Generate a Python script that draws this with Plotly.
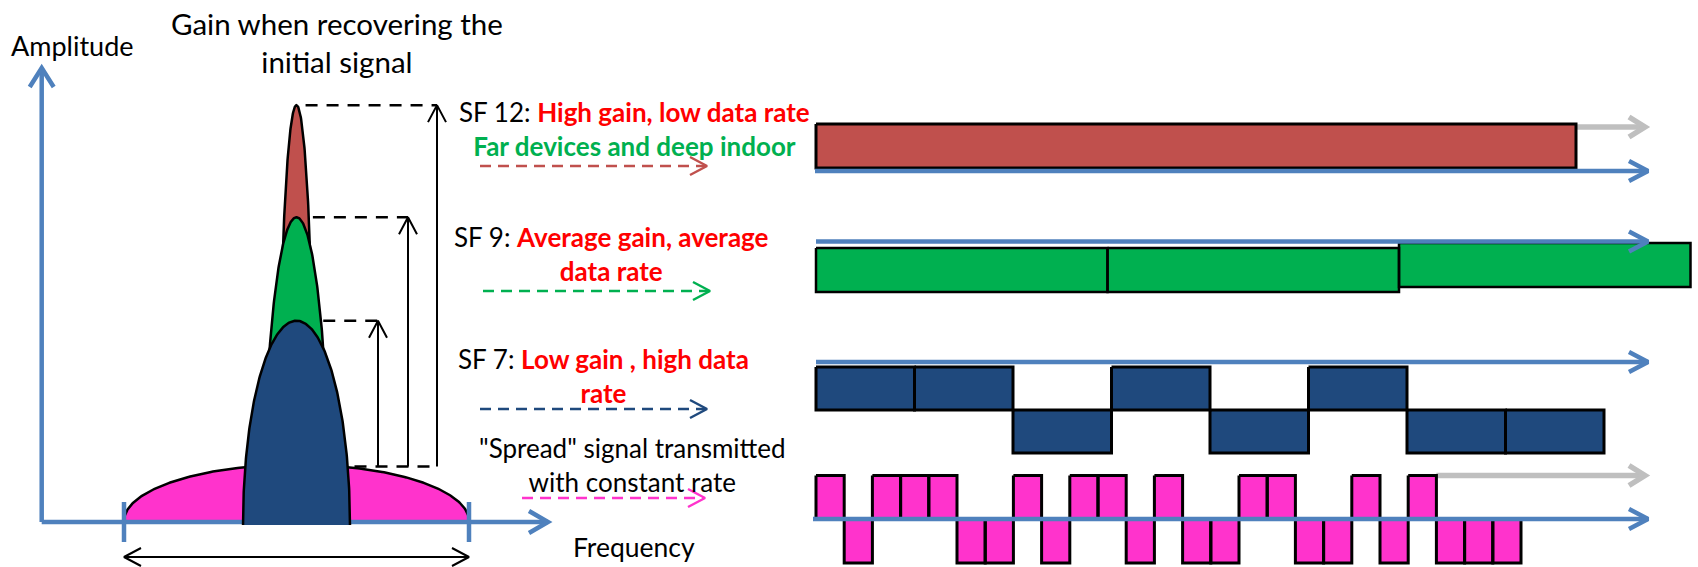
import numpy as np
import plotly.graph_objects as go

# ---------------- data ----------------
signal_names   = ["SF 12", "SF 9", "SF 7", "Spread"]
peak_amplitude = [7.25, 5.3, 3.5, 1.0]      # peak height relative to the spread signal
half_bandwidth = [0.105, 0.19, 0.31, 1.0]   # half bandwidth relative to the spread signal

sf12_symbols = [1]
sf9_symbols  = [0, 0, 1]
sf7_symbols  = [1, 1, 0, 1, 0, 1, 0, 0]
spread_chips = [1, 0, 1, 1, 1, 0, 0, 1, 0, 1, 1, 0, 1, 0, 0, 1, 1, 0, 0, 1, 0, 1, 0, 0, 0]

title_text   = "Gain when recovering the<br>initial signal"
y_axis_label = "Amplitude"
x_axis_label = "Frequency"
sf_labels    = ["SF 12: ", "SF 9: ", "SF 7: "]
sf_red_texts = ["High gain, low data rate", "Average gain, average<br>data rate", "Low gain , high data<br>rate"]
sf12_note    = "Far devices and deep indoor"
spread_text  = "\"Spread\" signal transmitted<br>with constant rate"

# ---------------- styles / geometry ----------------
W, H = 1698, 567
FONT = "Lato"
AXIS_BLUE = "#4F81BD"
GRAY = "#BFBFBF"
shape_colors = ["#C0504D", "#00B050", "#1F497D", "#FF33CC"]
TEXT_RED, TEXT_GREEN = "#FF0000", "#00B050"

F0, BASE, AMP_PX, BW_PX = 296.5, 522.0, 57.5, 172.5
X0 = 816.0

fig = go.Figure()


def add_line(xs, ys, color, width, dash=None):
    fig.add_trace(go.Scatter(x=xs, y=ys, mode="lines",
                             line=dict(color=color, width=width, dash=dash),
                             hoverinfo="skip", showlegend=False))


def chevron(tx, ty, direction, color, width, L=17, S=9):
    if direction == "right":
        xs, ys = [tx - L, tx, tx - L], [ty - S, ty, ty + S]
    elif direction == "left":
        xs, ys = [tx + L, tx, tx + L], [ty - S, ty, ty + S]
    else:  # up
        xs, ys = [tx - S, tx, tx + S], [ty + L, ty, ty + L]
    add_line(xs, ys, color, width)


def add_poly(xs, ys, fill, lw=2.5, lc="black"):
    fig.add_trace(go.Scatter(x=xs, y=ys, mode="lines", fill="toself", fillcolor=fill,
                             line=dict(color=lc, width=lw), hoverinfo="skip", showlegend=False))


def ellipse(idx, base):
    t = np.linspace(0, np.pi, 240)
    hw = half_bandwidth[idx] * BW_PX
    h = peak_amplitude[idx] * AMP_PX + (base - BASE)
    return F0 + hw * np.cos(t), base - h * np.sin(t)


# ---------------- left panel ----------------
ex, ey = ellipse(3, BASE - 1)
add_poly(ex, ey, shape_colors[3])

add_line([41.7, 41.7], [BASE, 68], AXIS_BLUE, 4.5)
chevron(41.7, 68, "up", AXIS_BLUE, 4.5, L=19, S=12)
add_line([41.7, 548], [BASE, BASE], AXIS_BLUE, 4.5)
chevron(548, BASE, "right", AXIS_BLUE, 4.5, L=19, S=11)
for tx in (F0 - BW_PX, F0 + BW_PX):
    add_line([tx, tx], [502, 542], AXIS_BLUE, 4.5)

add_line([F0 - BW_PX, F0 + BW_PX], [557, 557], "black", 2)
chevron(F0 - BW_PX, 557, "left", "black", 2)
chevron(F0 + BW_PX, 557, "right", "black", 2)

for i in range(3):
    ex, ey = ellipse(i, BASE + 3)
    add_poly(ex, ey, shape_colors[i])

spread_level = BASE - peak_amplitude[3] * AMP_PX
arrow_x = [437, 408, 378]
for i in range(3):
    py = BASE - peak_amplitude[i] * AMP_PX
    add_line([F0 + 0.5 * half_bandwidth[i] * BW_PX, arrow_x[i]], [py, py], "black", 2.5, "12px,9px")
    add_line([arrow_x[i], arrow_x[i]], [spread_level + 2, py], "black", 2)
    chevron(arrow_x[i], py, "up", "black", 2)
add_line([F0 + 58, arrow_x[0]], [spread_level + 2, spread_level + 2], "black", 2.5, "12px,9px")

# ---------------- right panel ----------------
def add_symbols(symbols, width, levels):
    xs, ys = [], []
    for k, s in enumerate(symbols):
        top, bot = levels[s]
        x1, x2 = X0 + k * width, X0 + (k + 1) * width
        xs += [x1, x2, x2, x1, x1, None]
        ys += [top, top, bot, bot, top, None]
    return xs, ys


def last_high_end(symbols, width):
    idx = max(k for k, s in enumerate(symbols) if s == 1)
    return X0 + (idx + 1) * width

X_END = 1648

# SF12
w12 = 760
add_line([last_high_end(sf12_symbols, w12), 1643], [127, 127], GRAY, 5.5)
chevron(1645, 127, "right", GRAY, 5.5, L=16, S=10)
xs, ys = add_symbols(sf12_symbols, w12, {1: (124, 168)})
add_poly(xs, ys, shape_colors[0], lw=3)
add_line([X0 - 1, X_END], [171, 171], AXIS_BLUE, 4.5)
chevron(X_END, 171, "right", AXIS_BLUE, 4.5, L=19, S=10)

# SF9
xs, ys = add_symbols(sf9_symbols, 291.5, {0: (248, 292), 1: (243, 287)})
add_poly(xs, ys, shape_colors[1], lw=2.5)
add_line([X0, X_END], [241.5, 241.5], AXIS_BLUE, 4.5)
chevron(X_END, 241.5, "right", AXIS_BLUE, 4.5, L=19, S=10)

# SF7
xs, ys = add_symbols(sf7_symbols, 98.5, {1: (367, 410), 0: (410, 453)})
add_poly(xs, ys, shape_colors[2], lw=3)
add_line([X0, X_END], [362, 362], AXIS_BLUE, 4.5)
chevron(X_END, 362, "right", AXIS_BLUE, 4.5, L=19, S=10)

# spread chips
wc = 28.2
add_line([last_high_end(spread_chips, wc), 1643], [475.5, 475.5], GRAY, 5.5)
chevron(1645, 475.5, "right", GRAY, 5.5, L=16, S=10)
xs, ys = add_symbols(spread_chips, wc, {1: (475.5, 519), 0: (519, 563)})
add_poly(xs, ys, shape_colors[3], lw=3)
add_line([X0 - 3, X_END], [519, 519], AXIS_BLUE, 4.5)
chevron(X_END, 519, "right", AXIS_BLUE, 4.5, L=19, S=10)

# dashed arrows in the middle
dash_rows = [(480, 707, 166, shape_colors[0]), (483, 710, 291, shape_colors[1]),
             (480, 707, 409, shape_colors[2]), (522, 705, 498, shape_colors[3])]
for x1, x2, yy, c in dash_rows:
    add_line([x1, x2 - 2], [yy, yy], c, 2.5, "11px,7px")
    chevron(x2, yy, "right", c, 2.5, L=17, S=9)

# ---------------- texts ----------------
def note(x, y, text, size, xanchor="center"):
    fig.add_annotation(x=x, y=y, xref="x", yref="y", text=text, showarrow=False,
                       xanchor=xanchor, yanchor="middle", align="center",
                       font=dict(family=FONT, size=size, color="black"))


def red(s):
    return f"<b><span style='color:{TEXT_RED}'>{s}</span></b>"


note(337, 42, title_text, 29.5)
note(9, 45, y_axis_label, 27, xanchor="left")
note(634, 547, x_axis_label, 26.5)
note(634, 129, sf_labels[0] + red(sf_red_texts[0]) +
     f"<br><b><span style='color:{TEXT_GREEN}'>{sf12_note}</span></b>", 26)
note(611, 254, sf_labels[1] + red(sf_red_texts[1]), 26)
note(603, 376, sf_labels[2] + red(sf_red_texts[2]), 26)
note(632, 465, spread_text, 26)

fig.update_layout(
    width=W, height=H, margin=dict(l=0, r=0, t=0, b=0),
    paper_bgcolor="white", plot_bgcolor="white",
    xaxis=dict(range=[0, W], visible=False, fixedrange=True),
    yaxis=dict(range=[H, 0], visible=False, fixedrange=True),
    showlegend=False,
)
fig.write_html("out.html",
               config={"displayModeBar": False, "staticPlot": True},
               post_script="document.body.style.margin='0';document.body.style.overflow='hidden';")
